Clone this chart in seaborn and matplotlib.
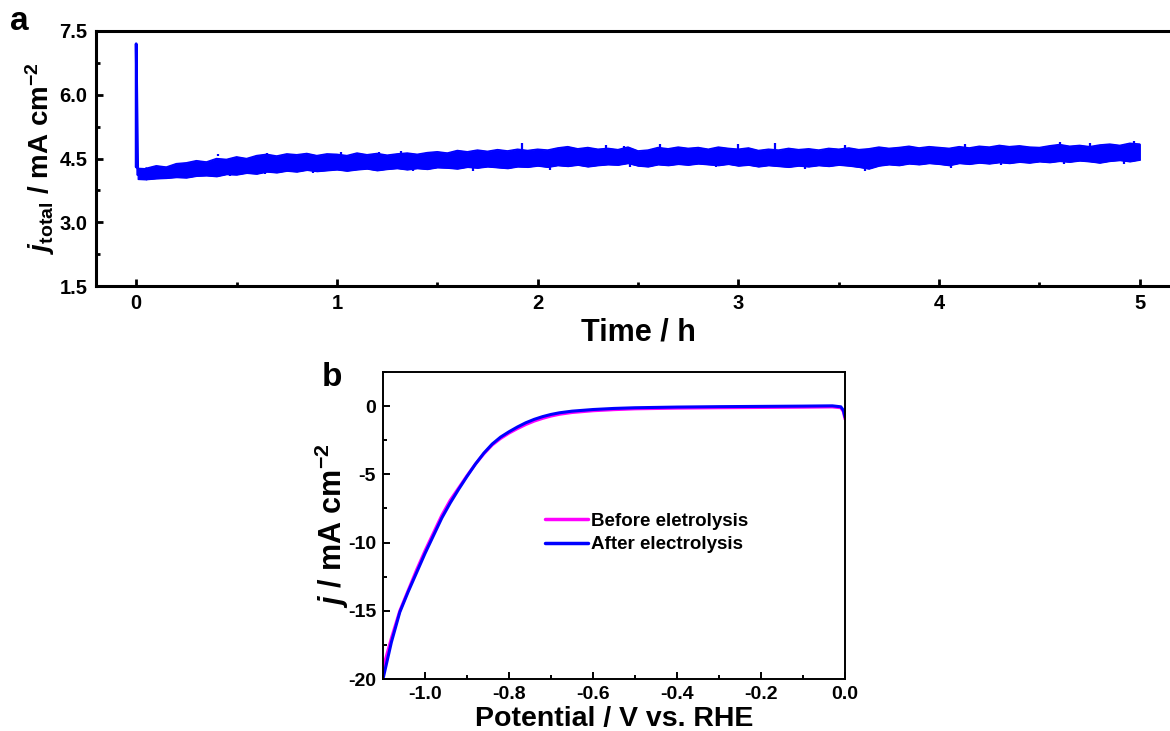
import numpy as np
import matplotlib
matplotlib.use("Agg")
import matplotlib.pyplot as plt
import seaborn as sns
import pandas as pd
from matplotlib.ticker import MultipleLocator, FixedLocator

# ---------------- data: panel a (chronoamperometry) ----------------
start_t = [0.0, 0.0, 0.008]
start_j = [4.3, 7.2, 4.12]
band_t = np.round(np.arange(0.05, 5.0001, 0.05), 2)   # sampling times (h)
band_upper = [4.27, 4.33, 4.30, 4.38, 4.40, 4.45, 4.42, 4.50, 4.48, 4.54,
              4.50, 4.57, 4.60, 4.56, 4.61, 4.59, 4.62, 4.57, 4.61, 4.60,
              4.57, 4.63, 4.59, 4.62, 4.58, 4.61, 4.63, 4.60, 4.64, 4.66,
              4.63, 4.69, 4.66, 4.70, 4.67, 4.71, 4.68, 4.72, 4.69, 4.72,
              4.70, 4.75, 4.78, 4.73, 4.76, 4.72, 4.74, 4.71, 4.77, 4.68,
              4.70, 4.76, 4.73, 4.77, 4.74, 4.76, 4.72, 4.77, 4.74, 4.72,
              4.75, 4.69, 4.72, 4.70, 4.74, 4.71, 4.73, 4.70, 4.74, 4.72,
              4.75, 4.71, 4.73, 4.77, 4.74, 4.76, 4.79, 4.75, 4.78, 4.76,
              4.74, 4.78, 4.75, 4.79, 4.77, 4.81, 4.78, 4.80, 4.77, 4.76,
              4.80, 4.83, 4.79, 4.81, 4.78, 4.82, 4.84, 4.81, 4.86, 4.84]
band_lower = [4.01, 4.03, 4.04, 4.06, 4.05, 4.09, 4.10, 4.08, 4.13, 4.12,
              4.16, 4.14, 4.19, 4.17, 4.21, 4.19, 4.23, 4.20, 4.22, 4.24,
              4.21, 4.24, 4.26, 4.22, 4.25, 4.27, 4.24, 4.27, 4.25, 4.29,
              4.28, 4.26, 4.30, 4.28, 4.31, 4.29, 4.27, 4.31, 4.30, 4.33,
              4.30, 4.34, 4.32, 4.35, 4.31, 4.34, 4.36, 4.35, 4.39, 4.33,
              4.31, 4.36, 4.34, 4.37, 4.35, 4.38, 4.36, 4.34, 4.37, 4.33,
              4.35, 4.31, 4.34, 4.32, 4.30, 4.33, 4.31, 4.34, 4.32, 4.35,
              4.33, 4.30, 4.26, 4.33, 4.36, 4.34, 4.38, 4.36, 4.39, 4.37,
              4.34, 4.39, 4.37, 4.40, 4.38, 4.41, 4.39, 4.42, 4.40, 4.43,
              4.41, 4.44, 4.42, 4.45, 4.43, 4.40, 4.44, 4.46, 4.43, 4.47]
up_spike_t = [0.41, 0.65, 1.02, 1.21, 1.32, 1.92, 2.34, 2.43, 2.61, 3.00,
              3.18, 3.53, 4.13, 4.60, 4.75, 4.97]
up_spike_j = [4.60, 4.63, 4.65, 4.66, 4.67, 4.87, 4.81, 4.79, 4.83, 4.83,
              4.87, 4.81, 4.83, 4.88, 4.86, 4.92]
dn_spike_t = [0.47, 0.64, 0.88, 1.38, 1.68, 2.06, 2.46, 2.89, 3.33, 3.63,
              4.06, 4.31, 4.62, 4.92]
dn_spike_j = [4.10, 4.14, 4.15, 4.20, 4.20, 4.24, 4.29, 4.29, 4.26, 4.20,
              4.28, 4.35, 4.36, 4.38]

# ---------------- data: panel b (LSV) ----------------
pot = [-1.10, -1.08, -1.06, -1.04, -1.02, -1.00, -0.98, -0.96, -0.94, -0.92,
       -0.90, -0.88, -0.86, -0.84, -0.82, -0.80, -0.78, -0.76, -0.74, -0.72,
       -0.70, -0.68, -0.65, -0.60, -0.55, -0.50, -0.40, -0.30, -0.20, -0.10,
       -0.03, -0.01, -0.004, 0.0]
j_after = [-20.0, -17.3, -15.1, -13.6, -12.2, -10.8, -9.5, -8.2, -7.1, -6.1,
           -5.15, -4.25, -3.45, -2.78, -2.27, -1.88, -1.53, -1.22, -0.97, -0.77,
           -0.61, -0.49, -0.37, -0.25, -0.17, -0.12, -0.07, -0.04, -0.02, 0.0,
           0.02, -0.05, -0.3, -0.8]
j_before = [-19.2, -17.0, -15.0, -13.5, -12.0, -10.6, -9.3, -8.0, -6.9, -6.0,
            -5.1, -4.25, -3.5, -2.85, -2.37, -1.98, -1.65, -1.35, -1.1, -0.9,
            -0.73, -0.6, -0.47, -0.34, -0.26, -0.2, -0.15, -0.12, -0.1, -0.08,
            -0.06, -0.12, -0.4, -0.95]
legend_labels = ["Before eletrolysis", "After electrolysis"]

# ---------------- style ----------------
sns.set_style("ticks")
plt.rcParams["font.family"] = ["Liberation Sans", "DejaVu Sans"]
plt.rcParams["font.weight"] = "bold"
plt.rcParams["axes.unicode_minus"] = False
plt.rcParams["text.color"] = "black"
plt.rcParams["axes.labelcolor"] = "black"
plt.rcParams["axes.edgecolor"] = "black"
plt.rcParams["xtick.color"] = "black"
plt.rcParams["ytick.color"] = "black"
plt.rcParams["mathtext.fontset"] = "custom"
plt.rcParams["mathtext.rm"] = "Liberation Sans:bold"
plt.rcParams["mathtext.bf"] = "Liberation Sans:bold"
plt.rcParams["mathtext.it"] = "Liberation Sans:bold:italic"

BLUE = "#0000FF"
MAGENTA = "#FF00FF"

fig = plt.figure(figsize=(11.7, 7.31), dpi=100)
axa = fig.add_axes([96/1170, 1-286/731, 1084/1170, 255/731])
axb = fig.add_axes([383/1170, 1-679/731, 462/1170, 307/731])

# ---- panel a ----
df_start = pd.DataFrame({"t": start_t, "j": start_j})
sns.lineplot(data=df_start, x="t", y="j", ax=axa, color=BLUE, lw=2, sort=False,
             estimator=None)
axa.fill_between(band_t, band_lower, band_upper, color=BLUE, lw=0.8,
                 edgecolor=BLUE)
sns.lineplot(x=band_t, y=band_upper, ax=axa, color=BLUE, lw=1.0, estimator=None)
sns.lineplot(x=band_t, y=band_lower, ax=axa, color=BLUE, lw=1.0, estimator=None)
axa.plot([start_t[-1], band_t[0]], [start_j[-1], band_upper[0]], color=BLUE, lw=1.5)
axa.fill_between([start_t[-1], band_t[0]], [4.02, band_lower[0]],
                 [4.28, band_upper[0]], color=BLUE, lw=1)
axa.vlines(up_spike_t, 4.55, up_spike_j, color=BLUE, lw=1.6)
axa.vlines(dn_spike_t, dn_spike_j, 4.45, color=BLUE, lw=1.6)

axa.set_xlim(-0.2, 5.2)
axa.set_ylim(1.5, 7.5)
axa.xaxis.set_major_locator(MultipleLocator(1))
axa.xaxis.set_minor_locator(MultipleLocator(0.5))
axa.yaxis.set_major_locator(FixedLocator([1.5, 3.0, 4.5, 6.0, 7.5]))
axa.yaxis.set_minor_locator(MultipleLocator(0.75))
axa.set_yticklabels(["1.5", "3.0", "4.5", "6.0", "7.5"])
axa.set_xlabel("Time / h", fontsize=22, fontweight="bold", labelpad=3)
axa.set_ylabel(r"$j_{\rm total}$ / mA cm$^{-2}$", fontsize=20, fontweight="bold",
               labelpad=2)
for s in axa.spines.values():
    s.set_linewidth(2.2)
axa.tick_params(which="both", direction="in", width=2, labelsize=14.5,
                top=False, right=False)
axa.tick_params(which="major", length=5, pad=6)
axa.tick_params(which="minor", length=3)

# ---- panel b ----
df_b = pd.DataFrame({
    "pot": pot * 2,
    "j": j_before + j_after,
    "cond": [legend_labels[0]] * len(pot) + [legend_labels[1]] * len(pot),
})
sns.lineplot(data=df_b, x="pot", y="j", hue="cond", ax=axb,
             palette={legend_labels[0]: MAGENTA, legend_labels[1]: BLUE},
             lw=2.2, estimator=None, sort=False)
axb.set_xlim(-1.1, 0.0)
axb.set_ylim(-20, 2.5)
axb.xaxis.set_major_locator(FixedLocator([-1.0, -0.8, -0.6, -0.4, -0.2, 0.0]))
axb.xaxis.set_minor_locator(MultipleLocator(0.1))
axb.set_xticklabels(["-1.0", "-0.8", "-0.6", "-0.4", "-0.2", "0.0"])
axb.yaxis.set_major_locator(MultipleLocator(5))
axb.yaxis.set_minor_locator(MultipleLocator(2.5))
axb.set_xlabel("Potential / V vs. RHE", fontsize=20.5, fontweight="bold", labelpad=2)
axb.set_ylabel(r"$j$ / mA cm$^{-2}$", fontsize=22, fontweight="bold", labelpad=-2)
for s in axb.spines.values():
    s.set_linewidth(1.4)
axb.tick_params(which="both", direction="in", width=1.4, labelsize=14,
                top=False, right=False)
axb.tick_params(which="major", length=5, pad=5)
axb.tick_params(which="minor", length=3)
leg = axb.legend(loc="center left", bbox_to_anchor=(0.351, 0.476), frameon=False,
                 borderaxespad=0, borderpad=0, handlelength=2.3,
                 handletextpad=0.15, labelspacing=0.35,
                 prop={"weight": "bold", "size": 13.5})
for h in leg.get_lines():
    h.set_linewidth(2.5)

fig.text(10/1170, 1-22/731, "a", fontsize=24, fontweight="bold", va="center")
fig.text(322/1170, 1-377/731, "b", fontsize=24, fontweight="bold", va="center")

fig.savefig("out.png", dpi=100)
